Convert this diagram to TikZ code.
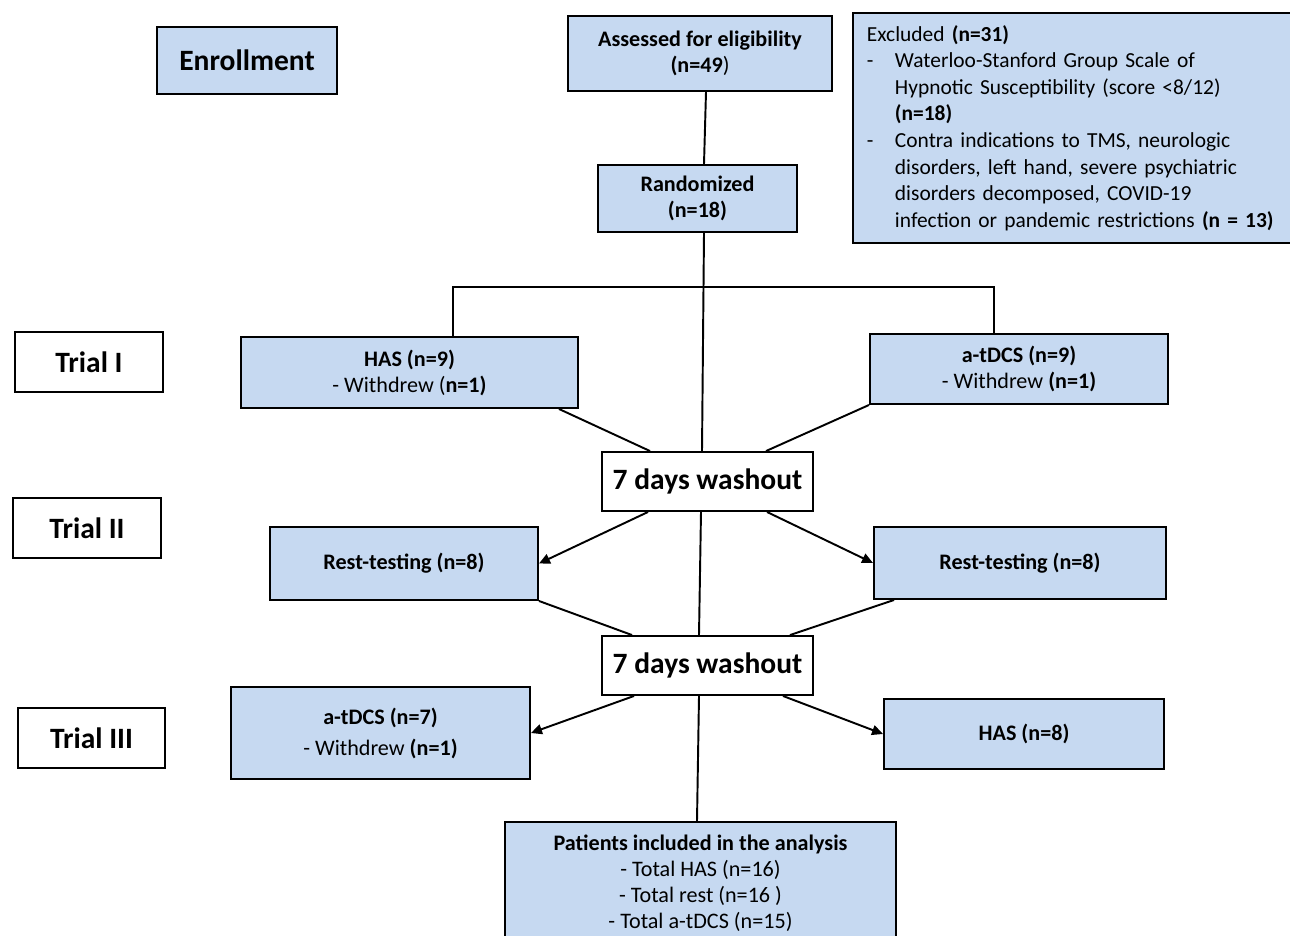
\documentclass[tikz,border=0pt]{standalone}
\usepackage{fontspec}
\setmainfont{Carlito}
\usetikzlibrary{arrows.meta}
\definecolor{boxblue}{RGB}{198,217,241}
\newcommand{\dashitem}{\makebox[0.56cm][l]{-}}
\newcommand{\itemgap}{\hspace*{0.56cm}}

\begin{document}
\begin{tikzpicture}[
	bluebox/.style={draw,line width=1.1pt,fill=boxblue,align=center,inner sep=2pt,font=\fontsize{12.6}{14.8}\selectfont},
	trialbox/.style={draw,line width=1.1pt,fill=white,align=center,font=\fontsize{16.8}{18}\selectfont\bfseries},
	link/.style={line width=1.1pt},
	>={Triangle[length=2.2mm,width=2mm]}
]
	\useasboundingbox (0,0) rectangle (25.8,-18.7) ;
	\clip (0,0) rectangle (25.8,-18.7) ;
	% left column : stages
	\node[trialbox,fill=boxblue,minimum width=3.6cm,minimum height=1.34cm] (enroll) at (4.94,-1.21) {Enrollment} ;
	\node[trialbox,minimum width=2.96cm,minimum height=1.2cm] (trial1) at (1.78,-7.24) {Trial I} ;
	\node[trialbox,minimum width=2.96cm,minimum height=1.2cm] (trial2) at (1.74,-10.56) {Trial II} ;
	\node[trialbox,minimum width=2.94cm,minimum height=1.2cm] (trial3) at (1.83,-14.76) {Trial III} ;
	% top
	\node[bluebox,minimum width=5.28cm,minimum height=1.5cm] (assess) at (14.0,-1.07) {\textbf{Assessed for eligibility}\\\textbf{(n=49})} ;
	\node[bluebox,anchor=north west,align=left,text width=8.2cm,inner xsep=0.28cm,minimum height=4.6cm,font=\fontsize{12.2}{15.1}\selectfont] (excl) at (17.04,-0.24) {Excluded \textbf{(n=31)}\\
		\dashitem Waterloo-Stanford Group Scale of\\
		\itemgap Hypnotic Susceptibility (score <8/12)\\
		\itemgap \textbf{(n=18)}\\
		\dashitem Contra indications to TMS, neurologic\\
		\itemgap disorders, left hand, severe psychiatric\\
		\itemgap disorders decomposed, COVID-19\\
		\itemgap infection or pandemic restrictions \textbf{(n = 13)}} ;
	\node[bluebox,minimum width=3.98cm,minimum height=1.34cm] (rand) at (13.95,-3.97) {\textbf{Randomized}\\\textbf{(n=18)}} ;
	% trial I
	\node[bluebox,minimum width=6.74cm,minimum height=1.42cm] (has1) at (8.19,-7.45) {\textbf{HAS (n=9)}\\- Withdrew (\textbf{n=1)}} ;
	\node[bluebox,minimum width=5.96cm,minimum height=1.4cm] (tdcs1) at (20.38,-7.38) {\textbf{a-tDCS (n=9)}\\- Withdrew \textbf{(n=1)}} ;
	\node[trialbox,minimum width=4.22cm,minimum height=1.18cm] (wash1) at (14.15,-9.63) {7 days washout} ;
	% trial II
	\node[bluebox,minimum width=5.36cm,minimum height=1.46cm] (rest1) at (8.08,-11.27) {\textbf{Rest-testing (n=8)}} ;
	\node[bluebox,minimum width=5.84cm,minimum height=1.44cm] (rest2) at (20.4,-11.26) {\textbf{Rest-testing (n=8)}} ;
	\node[trialbox,minimum width=4.22cm,minimum height=1.18cm] (wash2) at (14.15,-13.31) {7 days washout} ;
	% trial III
	\node[bluebox,minimum width=5.98cm,minimum height=1.84cm] (tdcs3) at (7.61,-14.66) {\textbf{a-tDCS (n=7)}\\[0.1cm]- Withdrew \textbf{(n=1)}} ;
	\node[bluebox,minimum width=5.6cm,minimum height=1.4cm] (has3) at (20.48,-14.68) {\textbf{HAS (n=8)}} ;
	\node[bluebox,minimum width=7.82cm,minimum height=2.46cm] (incl) at (14.01,-17.67) {\textbf{Patients included in the analysis}\\- Total HAS (n=16)\\- Total rest (n=16 )\\- Total a-tDCS (n=15)} ;
	% connectors
	\draw[link] ([xshift=0.12cm]assess.south) -- ([xshift=0.13cm]rand.north) ;
	\draw[link] ([xshift=0.13cm]rand.south) -- ([xshift=-0.11cm]wash1.north) ;
	\draw[link] ([xshift=0.87cm]has1.north) -- ++(0,0.98) -| ([xshift=-0.5cm]tdcs1.north) ;
	\draw[link] ([xshift=-0.4cm]has1.south east) -- ([xshift=-1.15cm]wash1.north) ;
	\draw[link] (tdcs1.south west) -- ([xshift=1.17cm]wash1.north) ;
	\draw[link,->] ([xshift=-1.19cm]wash1.south) -- (rest1.east) ;
	\draw[link,->] ([xshift=1.19cm]wash1.south) -- (rest2.west) ;
	\draw[link] ([xshift=-0.13cm]wash1.south) -- ([xshift=-0.17cm]wash2.north) ;
	\draw[link] (rest1.south east) -- ([xshift=-1.51cm]wash2.north) ;
	\draw[link] ([xshift=0.42cm]rest2.south west) -- ([xshift=1.65cm]wash2.north) ;
	\draw[link,->] ([xshift=-1.47cm]wash2.south) -- (tdcs3.east) ;
	\draw[link,->] ([xshift=1.51cm]wash2.south) -- (has3.west) ;
	\draw[link] ([xshift=-0.17cm]wash2.south) -- ([xshift=-0.07cm]incl.north) ;
\end{tikzpicture}
\end{document}
